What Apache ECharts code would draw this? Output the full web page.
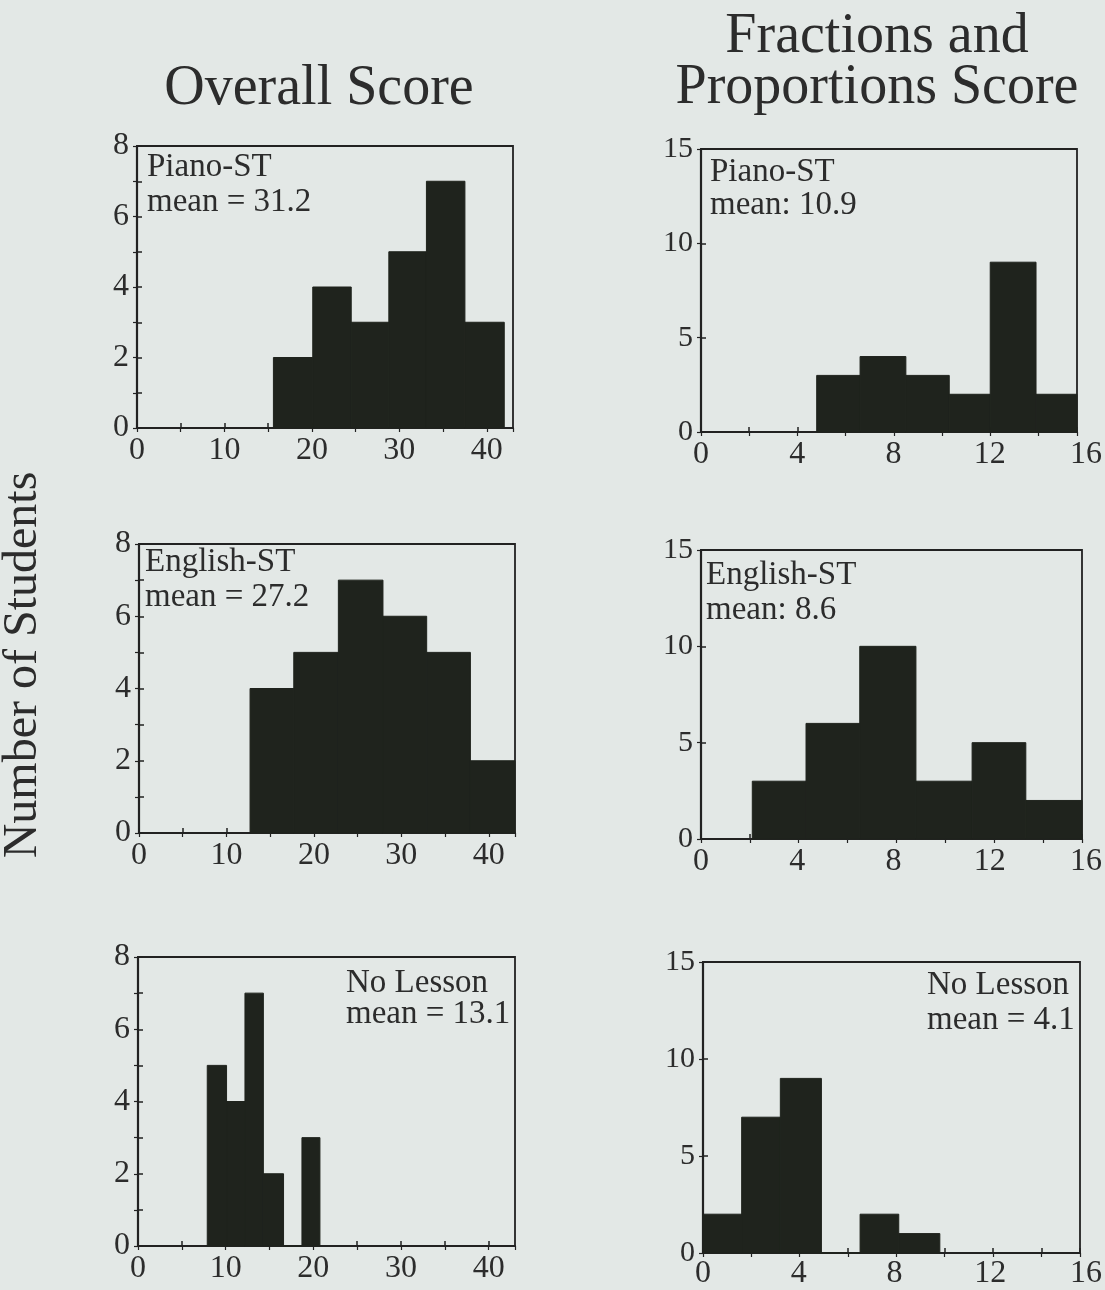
<!DOCTYPE html>
<html>
<head>
<meta charset="utf-8">
<script src="https://cdn.jsdelivr.net/npm/echarts@6/dist/echarts.min.js"></script>
<style>
html,body{margin:0;padding:0;background:#e3e8e6;}
#chart{width:1105px;height:1290px;}
</style>
</head>
<body>
<div id="chart"></div>
<script>
// ---- data (bin edges and student counts) ----
const overallXTicks = [0, 10, 20, 30, 40];
const fractionXTicks = [0, 4, 8, 12, 16];
const overallYTicks = [0, 2, 4, 6, 8];
const fractionYTicks = [0, 5, 10, 15];

const pianoOverallEdges = [15.6, 20.1, 24.5, 28.8, 33.1, 37.5, 42.0];
const pianoOverallCounts = [2, 4, 3, 5, 7, 3];
const englishOverallEdges = [12.7, 17.7, 22.8, 27.9, 32.9, 37.9, 43.0];
const englishOverallCounts = [4, 5, 7, 6, 5, 2];
const noLessonOverallEdges = [7.9, 10.1, 12.2, 14.3, 16.6, 18.7, 20.75];
const noLessonOverallCounts = [5, 4, 7, 2, 0, 3];

const pianoFracEdges = [4.8, 6.6, 8.5, 10.3, 12.0, 13.9, 15.6];
const pianoFracCounts = [3, 4, 3, 2, 9, 2];
const englishFracEdges = [2.1, 4.3, 6.5, 8.8, 11.1, 13.3, 15.6];
const englishFracCounts = [3, 6, 10, 3, 5, 2];
const noLessonFracEdges = [0, 1.6, 3.2, 4.9, 6.5, 8.1, 9.8];
const noLessonFracCounts = [2, 7, 9, 0, 2, 1];

const panelLabels = [
  'Piano-ST\nmean = 31.2',
  'English-ST\nmean = 27.2',
  'No Lesson\nmean = 13.1',
  'Piano-ST\nmean: 10.9',
  'English-ST\nmean: 8.6',
  'No Lesson\nmean = 4.1'
];
const columnTitles = ['Overall Score', 'Fractions and\nProportions Score'];
const yTitle = 'Number of Students';

// ---- layout ----
const FONT = "'Liberation Serif', 'DejaVu Serif', serif";
const INK = '#2c2c2c';
const BAR = '#1f231d';

const panels = [
  {edges: pianoOverallEdges, counts: pianoOverallCounts, kind: 'overall', box: [137, 146, 376, 282], text: [147, 150, 35]},
  {edges: englishOverallEdges, counts: englishOverallCounts, kind: 'overall', box: [139, 544, 376, 289], text: [145, 545, 35]},
  {edges: noLessonOverallEdges, counts: noLessonOverallCounts, kind: 'overall', box: [138, 957, 377, 289], text: [346, 967, 31]},
  {edges: pianoFracEdges, counts: pianoFracCounts, kind: 'frac', box: [701, 149, 376, 283], text: [710, 156, 33]},
  {edges: englishFracEdges, counts: englishFracCounts, kind: 'frac', box: [701, 550, 381, 289], text: [706, 558, 35]},
  {edges: noLessonFracEdges, counts: noLessonFracCounts, kind: 'frac', box: [703, 962, 377, 291], text: [927, 968, 35]}
];

const OVERALL_XMAX = 43;
const FRAC_XMAX = 15.6;

const grid = [], xAxis = [], yAxis = [], series = [], graphic = [];

function inList(list, v) { return list.some(t => Math.abs(t - v) < 1e-6); }

panels.forEach((p, i) => {
  const [l, t, w, h] = p.box;
  const isOverall = p.kind === 'overall';
  const xmax = isOverall ? OVERALL_XMAX : FRAC_XMAX;
  const xTicks = isOverall ? overallXTicks : fractionXTicks;
  const yTicks = isOverall ? overallYTicks : fractionYTicks;
  const gi = grid.length;
  grid.push({left: l, top: t, width: w, height: h, show: true, borderColor: '#222', borderWidth: 1.8, backgroundColor: 'transparent', containLabel: false});

  const xi = xAxis.length;
  xAxis.push({
    type: 'value', gridIndex: gi, min: 0, max: xmax, interval: isOverall ? 5 : 2, position: 'bottom',
    axisLine: {show: true, onZero: false, lineStyle: {color: '#222', width: 2.2}},
    axisTick: {show: true, inside: true, length: 5, lineStyle: {color: '#222', width: 1.5}},
    splitLine: {show: false},
    axisLabel: {
      show: isOverall, margin: 7, color: INK, fontFamily: FONT, fontSize: 32,
      showMaxLabel: false,
      formatter: v => inList(xTicks, v) ? String(v) : ''
    }
  });
  xAxis.push({
    type: 'value', gridIndex: gi, min: 0, max: xmax, interval: isOverall ? 5 : 2, position: 'top',
    axisLine: {show: false}, axisLabel: {show: false}, splitLine: {show: false},
    axisTick: {show: true, inside: true, length: 4, lineStyle: {color: '#222', width: 1.2}}
  });
  const yi = yAxis.length;
  yAxis.push({
    type: 'value', gridIndex: gi, min: 0, max: isOverall ? 8 : 15, interval: isOverall ? 1 : 5, position: 'left',
    axisLine: {show: true, onZero: false, lineStyle: {color: '#222', width: 2.2}},
    axisTick: {show: true, inside: true, length: 5, lineStyle: {color: '#222', width: 1.5}},
    splitLine: {show: false},
    axisLabel: {
      show: true, margin: 8, color: INK, fontFamily: FONT, fontSize: isOverall ? 32 : 30,
      padding: [8, 0, 0, 0],
      formatter: v => inList(yTicks, v) ? String(v) : ''
    }
  });
  yAxis.push({
    type: 'value', gridIndex: gi, min: 0, max: isOverall ? 8 : 15, interval: isOverall ? 1 : 5, position: 'right',
    axisLine: {show: false}, axisLabel: {show: false}, splitLine: {show: false},
    axisTick: {show: true, inside: true, length: 4, lineStyle: {color: '#222', width: 1.2}}
  });

  const data = p.counts.map((c, k) => [p.edges[k], p.edges[k + 1], c]);
  series.push({
    type: 'custom', xAxisIndex: xi, yAxisIndex: yi, data: data,
    encode: {x: [0, 1], y: 2},
    renderItem: (params, api) => {
      const a = api.coord([api.value(0), 0]);
      const b = api.coord([api.value(1), api.value(2)]);
      return {type: 'rect', shape: {x: a[0], y: b[1], width: b[0] - a[0], height: a[1] - b[1]},
              style: {fill: BAR, stroke: BAR, lineWidth: 1}};
    }
  });

  if (!isOverall) {
    // label-only axis that continues to 16 beyond the box edge, as in the original
    const gj = grid.length;
    grid.push({left: l, top: t, width: w * 16 / FRAC_XMAX, height: h, show: false});
    xAxis.push({
      type: 'value', gridIndex: gj, min: 0, max: 16, interval: 4, position: 'bottom',
      axisLine: {show: false}, axisTick: {show: false}, splitLine: {show: false},
      axisLabel: {show: true, margin: 7, color: INK, fontFamily: FONT, fontSize: 32}
    });
    yAxis.push({type: 'value', gridIndex: gj, min: 0, max: 1, show: false});
  }

  graphic.push({
    type: 'text', left: p.text[0], top: p.text[1],
    style: {text: panelLabels[i], fill: INK, font: '33px ' + FONT, lineHeight: p.text[2]}
  });
});

graphic.push({type: 'text', x: 319, y: 89, style: {text: columnTitles[0], fill: INK, font: '56px ' + FONT, align: 'center', verticalAlign: 'middle'}});
graphic.push({type: 'text', x: 877, y: 63, style: {text: columnTitles[1], fill: INK, font: '56px ' + FONT, align: 'center', verticalAlign: 'middle', lineHeight: 51}});
graphic.push({type: 'text', x: 23, y: 665, rotation: Math.PI / 2, style: {text: yTitle, fill: INK, font: '48px ' + FONT, align: 'center', verticalAlign: 'middle'}});

const chart = echarts.init(document.getElementById('chart'), null, {renderer: 'canvas'});
chart.setOption({
  backgroundColor: '#e3e8e6',
  animation: false,
  grid, xAxis, yAxis, series, graphic
});
</script>
</body>
</html>
